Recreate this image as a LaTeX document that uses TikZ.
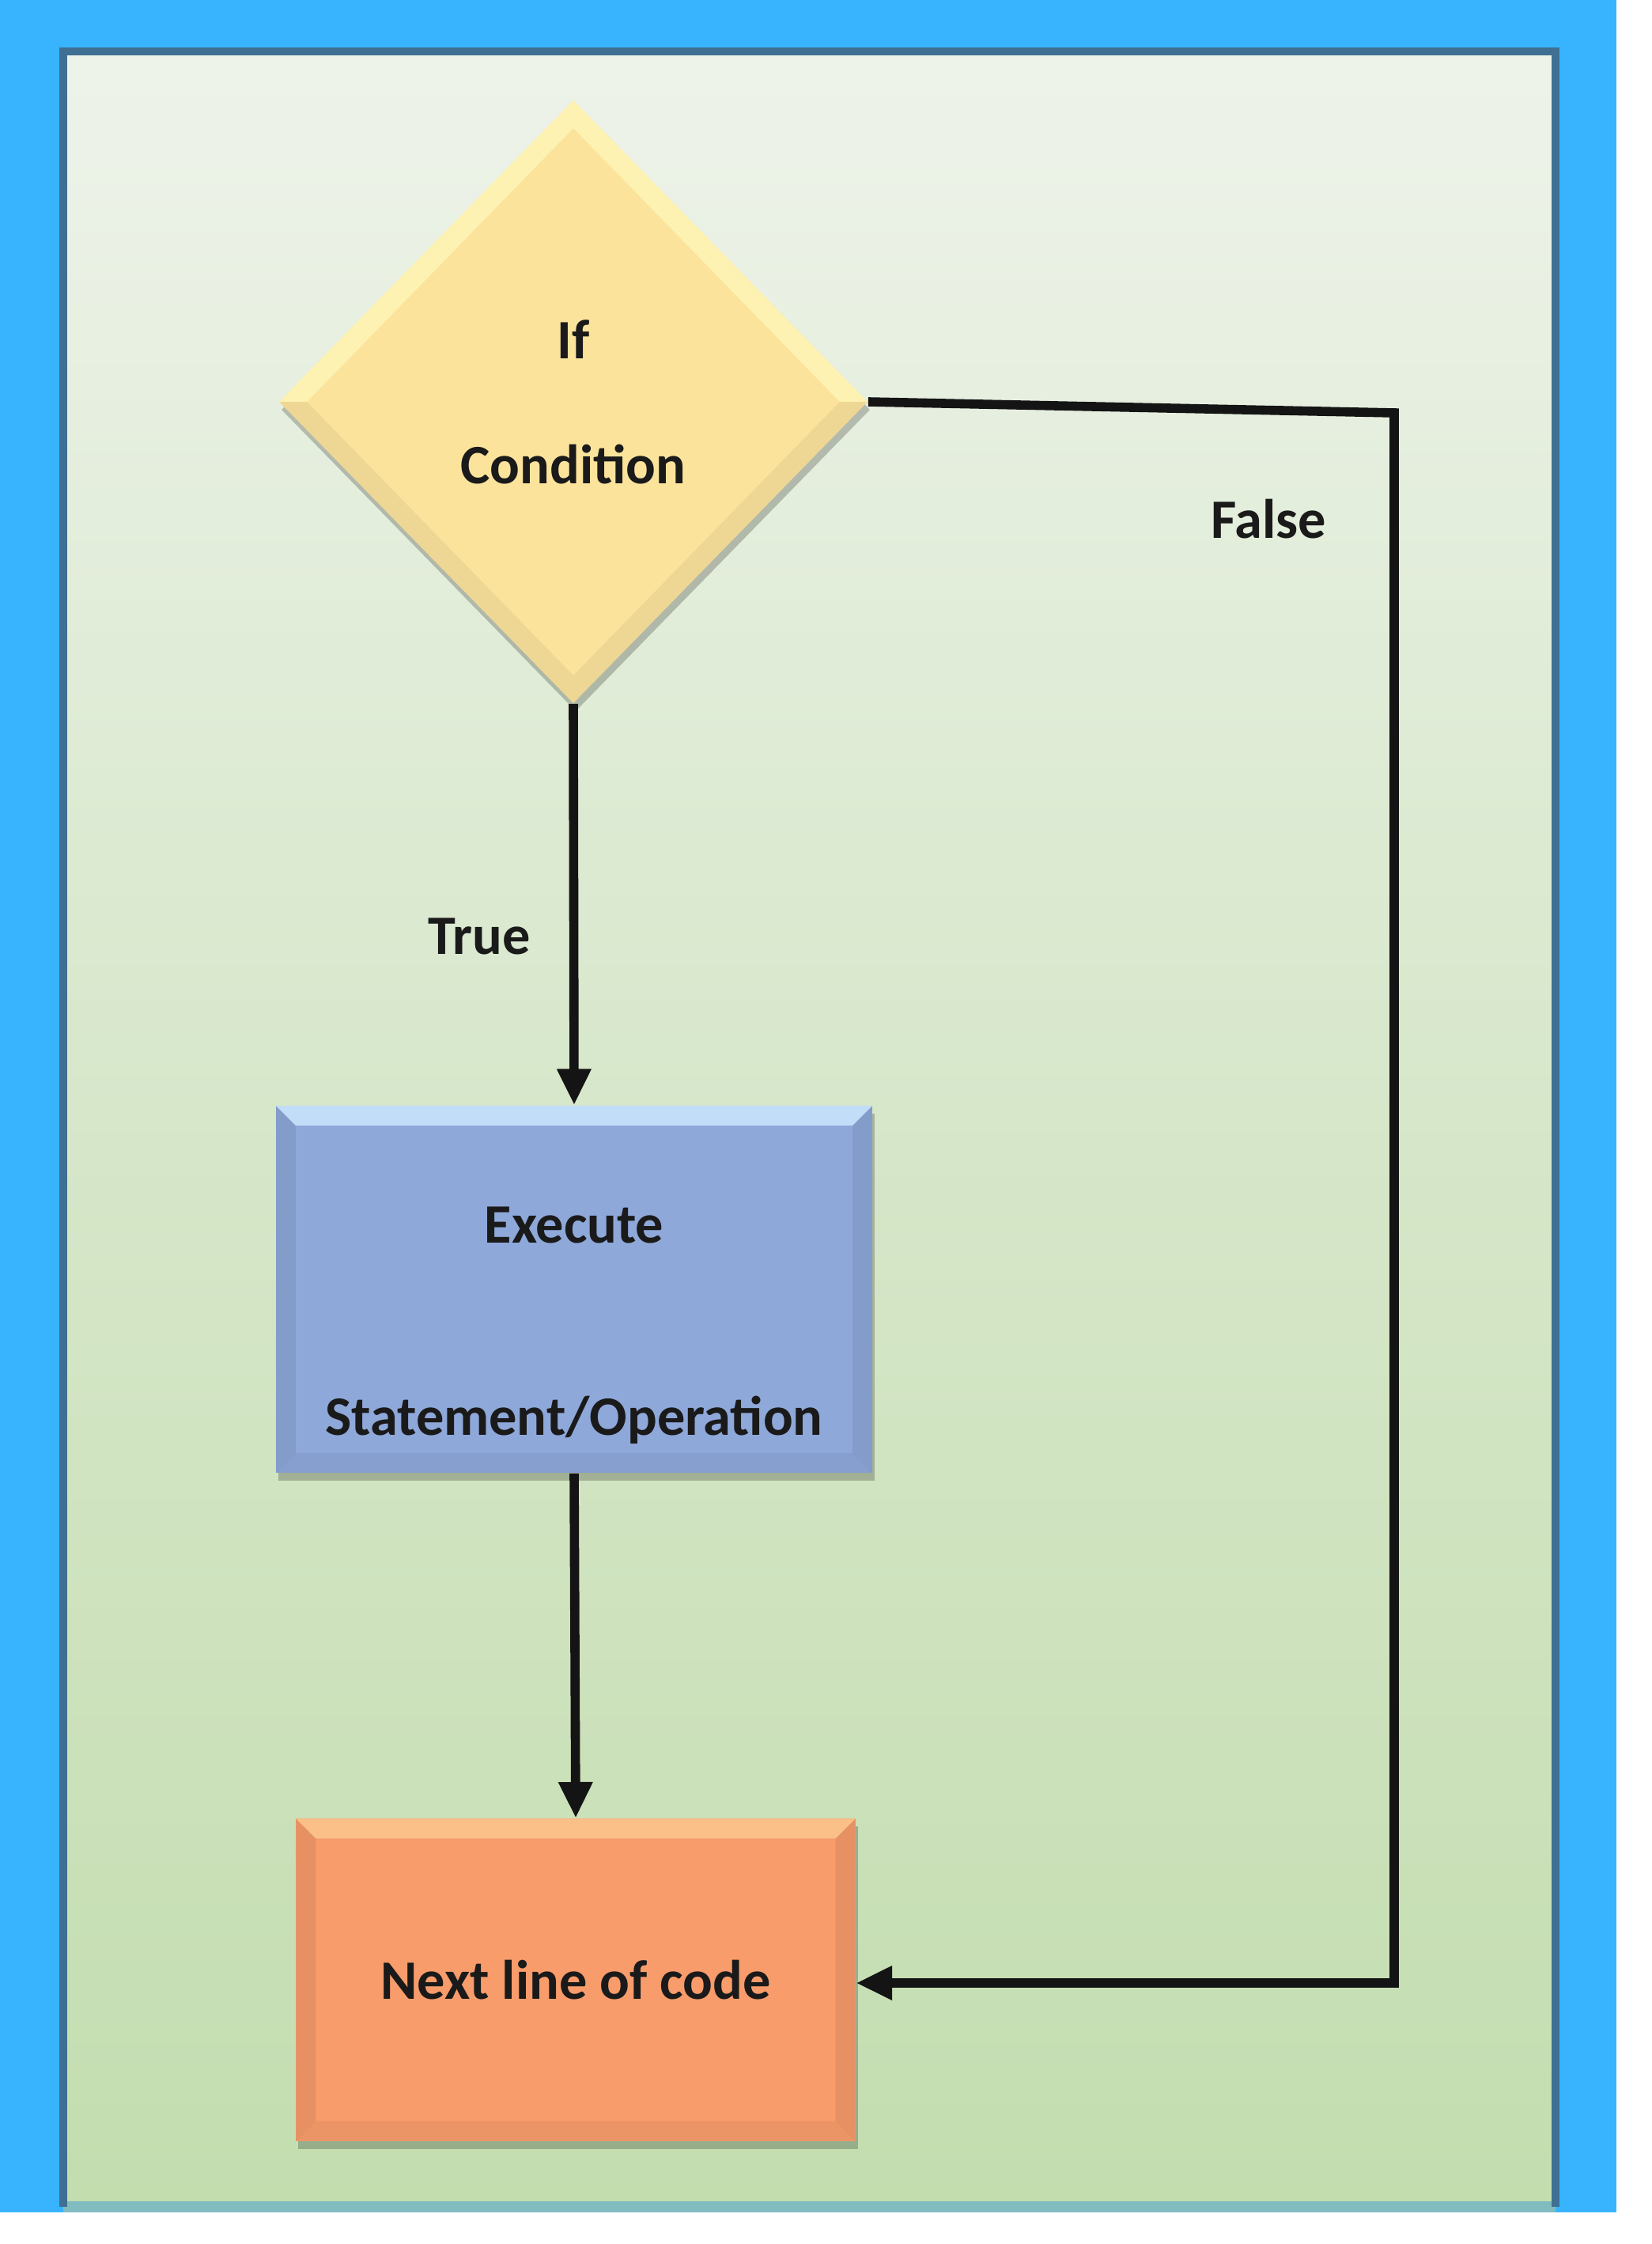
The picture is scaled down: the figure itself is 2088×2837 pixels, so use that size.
\documentclass[tikz,border=0pt]{standalone}
\usepackage{fontspec}
\setmainfont{Carlito}
\usetikzlibrary{shapes.geometric,arrows.meta,shadows}
\definecolor{skyblue}{HTML}{38B4FE}
\definecolor{panelborder}{HTML}{3F6F92}
\definecolor{panelbottom}{HTML}{7FBBBF}
\definecolor{paneltop}{HTML}{EEF3EA}
\definecolor{panelbot}{HTML}{C3DDAF}
\definecolor{condfill}{HTML}{FBE39C}
\definecolor{condlight}{HTML}{FFF6B8}
\definecolor{execfill}{HTML}{8FA8DA}
\definecolor{execlight}{HTML}{C2DDF8}
\definecolor{nextfill}{HTML}{F89C6B}
\definecolor{nextlight}{HTML}{FBC98F}
\definecolor{inktext}{HTML}{1A1A1A}
\begin{document}
\begin{tikzpicture}[x=0.01cm,y=-0.01cm,
  lbl/.style={font=\fontsize{20}{24}\selectfont\bfseries, text=inktext},
  softshadow/.style={drop shadow={shadow xshift=0.03cm, shadow yshift=-0.1cm, fill=black, opacity=0.22}},
  rectbevel/.style={path picture={
    \fill[#1] (path picture bounding box.north west) -- (path picture bounding box.north east)
      -- ([shift={(-0.25cm,-0.25cm)}]path picture bounding box.north east)
      -- ([shift={(0.25cm,-0.25cm)}]path picture bounding box.north west) -- cycle;
    \fill[black,opacity=0.07] (path picture bounding box.north west) -- ([shift={(0.25cm,-0.25cm)}]path picture bounding box.north west)
      -- ([shift={(0.25cm,0.25cm)}]path picture bounding box.south west) -- (path picture bounding box.south west) -- cycle;
    \fill[black,opacity=0.07] (path picture bounding box.north east) -- ([shift={(-0.25cm,-0.25cm)}]path picture bounding box.north east)
      -- ([shift={(-0.25cm,0.25cm)}]path picture bounding box.south east) -- (path picture bounding box.south east) -- cycle;
    \fill[black,opacity=0.05] (path picture bounding box.south west) -- ([shift={(0.25cm,0.25cm)}]path picture bounding box.south west)
      -- ([shift={(-0.25cm,0.25cm)}]path picture bounding box.south east) -- (path picture bounding box.south east) -- cycle;
  }},
  condshape/.style={diamond, fill=condfill, draw=none, inner sep=0pt,
    minimum width=7.44cm, minimum height=7.62cm, lbl, align=center, softshadow,
    path picture={
      \fill[condlight,opacity=0.8] (path picture bounding box.west) -- (path picture bounding box.north) -- (path picture bounding box.east)
        -- ([xshift=-0.35cm]path picture bounding box.east) -- ([yshift=-0.35cm]path picture bounding box.north)
        -- ([xshift=0.35cm]path picture bounding box.west) -- cycle;
      \fill[black,opacity=0.05] (path picture bounding box.west) -- (path picture bounding box.south) -- (path picture bounding box.east)
        -- ([xshift=-0.35cm]path picture bounding box.east) -- ([yshift=0.35cm]path picture bounding box.south)
        -- ([xshift=0.35cm]path picture bounding box.west) -- cycle;
    }},
  execshape/.style={rectangle, fill=execfill, draw=none, minimum width=7.54cm, minimum height=4.64cm,
    inner sep=0pt, lbl, align=center, softshadow, rectbevel=execlight},
  nextshape/.style={rectangle, fill=nextfill, draw=none, minimum width=7.07cm, minimum height=4.07cm,
    inner sep=0pt, lbl, align=center, softshadow, rectbevel={nextlight,opacity=0.8}},
  flowline/.style={line width=3.3pt, draw=black!92, -{Triangle[length=13pt,width=11.5pt]}}
]
\useasboundingbox (0,0) rectangle (2088,2837);
\fill[white] (0,0) rectangle (2088,2837);
\fill[skyblue] (0,0) rectangle (2044,2797);
\shade[top color=paneltop, bottom color=panelbot, middle color=paneltop!45!panelbot] (80,65) rectangle (1967,2790);
\draw[panelbottom, line width=4pt] (80,2790) -- (1967,2790);
\draw[panelborder, line width=3pt] (80,2790) -- (80,65) -- (1967,65) -- (1967,2790);

\node[condshape] (cond) at (725,508) {If\\[21pt]Condition};
\node[execshape] (exec) at (726,1630) {\mbox{}\\[15pt]Execute\\[45pt]Statement/Operation};
\node[nextshape] (next) at (728,2503) {Next line of code};

\node[lbl] (truelbl) at (606,1184) {True};
\node[lbl] (falselbl) at (1604,656) {False};

\coordinate (fc1) at (1763,522);
\coordinate (fc2) at (1763,2507);

\draw[flowline] (cond.south) -- (exec.north);
\draw[flowline] (exec.south) -- (next.north);
\draw[flowline] (cond.east) -- (fc1) -- (fc2) -- (next.east |- fc2);
\end{tikzpicture}
\end{document}
